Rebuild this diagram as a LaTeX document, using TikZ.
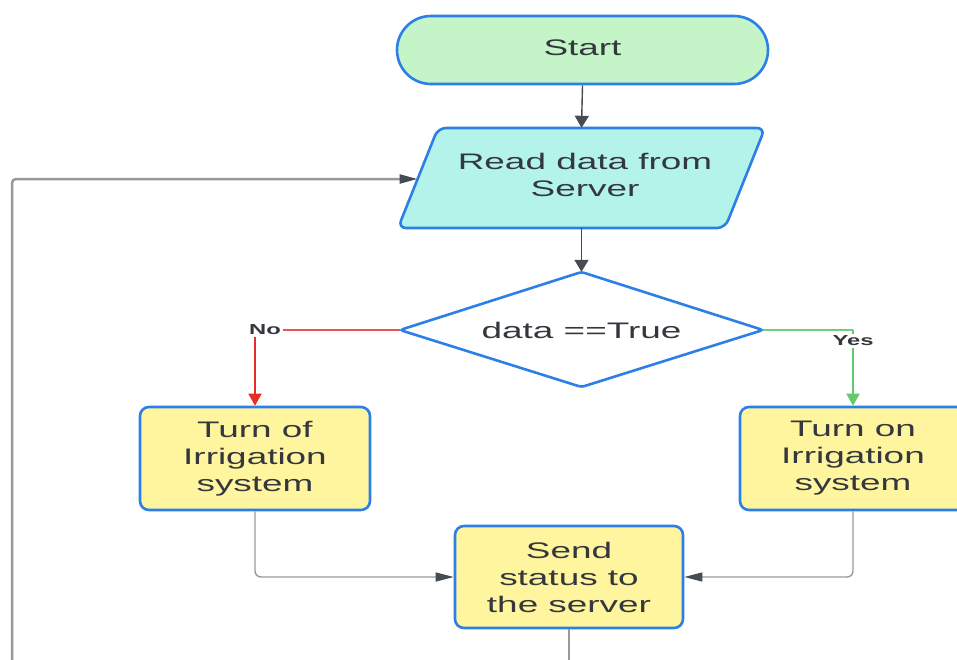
\documentclass[tikz,border=0pt]{standalone}
\usepackage{fontspec}
\setmainfont{Liberation Sans}
\newfontfamily\wf[FakeStretch=1.64]{Liberation Sans}
\usetikzlibrary{arrows.meta}
\definecolor{bord}{RGB}{45,127,232}
\definecolor{startfill}{RGB}{196,244,200}
\definecolor{readfill}{RGB}{180,243,234}
\definecolor{boxfill}{RGB}{255,245,158}
\definecolor{txt}{RGB}{52,56,62}
\definecolor{conn}{RGB}{70,75,84}
\definecolor{lgray}{RGB}{150,154,160}
\definecolor{redl}{RGB}{232,45,40}
\definecolor{redh}{RGB}{236,80,80}
\definecolor{greenl}{RGB}{100,200,110}
\definecolor{greenh}{RGB}{115,205,122}
\begin{document}
\begin{tikzpicture}[x=1pt,y=-1pt,
  lbl/.style={text=txt, font=\wf\fontsize{22.5}{27}\selectfont, align=center},
  proc/.style={lbl, draw=bord, line width=2.6pt, fill=boxfill, rounded corners=9pt,
    minimum width=228pt, minimum height=102pt, inner sep=0pt},
  ghost/.style={lbl, inner sep=0pt, draw=none},
  shapeline/.style={draw=bord, line width=2.6pt},
  darr/.style={draw=conn, line width=1.4pt, -{Triangle[length=12pt,width=14pt]}},
  hhead/.style={-{Triangle[length=18pt,width=9pt,color=conn]}},
  mline/.style={draw=lgray, line width=1.4pt, rounded corners=6pt},
  tag/.style={fill=white, inner sep=2pt, text=txt, font=\wf\bfseries\fontsize{14.5}{16}\selectfont}
]
\clip (0,0) rectangle (957,659);
\fill[white] (0,0) rectangle (957,659);

% Start
\node[proc, fill=startfill, rounded corners=34pt, minimum width=371pt, minimum height=68pt] (start) at (582.5,50) {};
\node[ghost] (starttxt) at (582.5,48) {Start};

% Read (parallelogram)
\draw[shapeline, fill=readfill, rounded corners=8pt] (438,128) -- (765,128) -- (725,228) -- (398,228) -- cycle;
\node[ghost, minimum width=300pt, minimum height=100pt] (read) at (581.5,178) {};
\node[ghost] (readtxt) at (585,175) {Read data from\\Server};

% Decision (diamond)
\draw[shapeline, fill=white, rounded corners=3pt] (400,330) -- (581.5,272) -- (763,330) -- (581.5,387) -- cycle;
\node[ghost, minimum width=363pt, minimum height=116pt] (dec) at (581.5,330) {data ==True};

% Process boxes
\node[proc, minimum width=230pt, minimum height=103pt] (off) at (255,458.5) {Turn of\\Irrigation\\system};
\node[proc, minimum width=226pt, minimum height=103pt] (on) at (853,458.5) {Turn on\\Irrigation\\system};
\node[proc, minimum width=228pt, minimum height=102pt] (send) at (569,577) {Send\\status to\\the server};

% Main flow
\draw[darr] (start.south) -- (read.north);
\draw[darr] (read.south) -- (dec.north);

% No branch
\coordinate (nocorner) at (dec.west -| off.north);
\draw[draw=redh, line width=1.6pt] (dec.west) -- (nocorner);
\draw[draw=redl, line width=1.6pt, -{Triangle[length=12pt,width=13pt]}] (nocorner) -- (off.north);
\node[tag] (nolbl) at (265,330) {No};

% Yes branch
\coordinate (yescorner) at (dec.east -| on.north);
\draw[draw=greenh, line width=1.6pt] (dec.east) -- (yescorner);
\draw[draw=greenl, line width=1.6pt, -{Triangle[length=12pt,width=13pt]}] (yescorner) -- (on.north);
\node[tag] (yeslbl) at (853,341) {Yes};

% Merge into send
\draw[mline, hhead] (off.south) |- (send.west);
\draw[mline, hhead] (on.south) |- (send.east);

% Bottom and loop back
\coordinate (sendout) at (569,690);
\draw[draw=lgray, line width=2pt] (send.south) -- (sendout);
\coordinate (loopbot) at (12,690);
\coordinate (loopin) at (417.5,179);
\draw[draw=lgray, line width=2.5pt, rounded corners=4pt, hhead] (loopbot) |- (loopin);
\end{tikzpicture}
\end{document}
